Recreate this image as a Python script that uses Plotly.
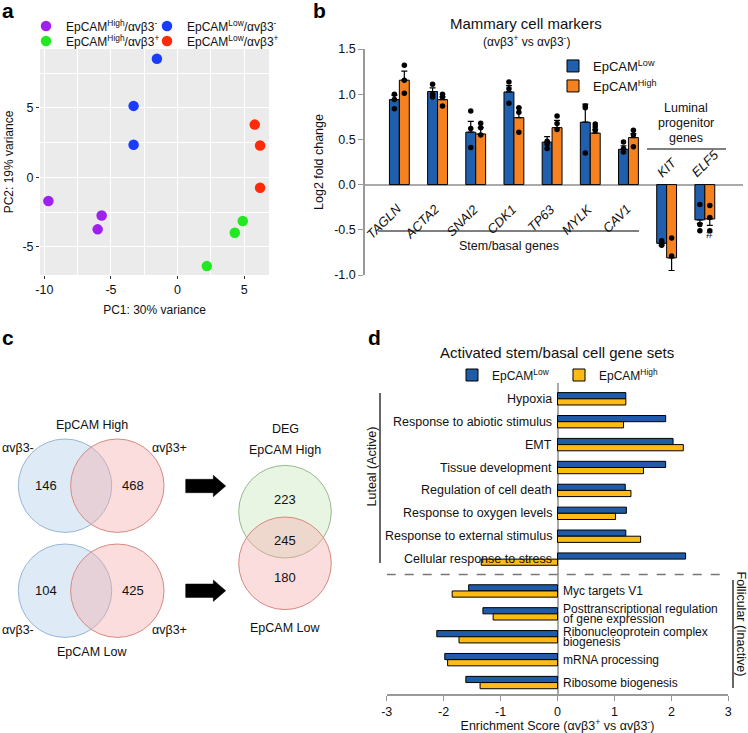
import plotly.graph_objects as go

W, H = 748, 733
FONT = "Liberation Sans, Arial, Helvetica, sans-serif"
TXT = "#111111"


def fx(p):
    return p / W


def fy(p):
    return 1 - p / H


# ---------------- Panel a : PCA ----------------
PCA_NAMES = ["EpCAM<sup>High</sup>/αvβ3<sup>-</sup>", "EpCAM<sup>Low</sup>/αvβ3<sup>-</sup>",
             "EpCAM<sup>High</sup>/αvβ3<sup>+</sup>", "EpCAM<sup>Low</sup>/αvβ3<sup>+</sup>"]
PCA_COLORS = ["#A020F0", "#1A3CFF", "#22E822", "#FF2A0A"]
PC1_HIGH_NEG = [-9.7, -5.7, -6.0]
PC2_HIGH_NEG = [-1.7, -2.75, -3.75]
PC1_LOW_NEG = [-1.55, -3.3, -3.3]
PC2_LOW_NEG = [8.55, 5.15, 2.35]
PC1_HIGH_POS = [4.9, 4.3, 2.2]
PC2_HIGH_POS = [-3.15, -4.0, -6.4]
PC1_LOW_POS = [5.8, 6.2, 6.2]
PC2_LOW_POS = [3.8, 2.3, -0.75]
PC1_TICKS = [-10, -5, 0, 5]
PC2_TICKS = [-5, 0, 5]

# ---------------- Panel b : marker genes ----------------
GENES = ["TAGLN", "ACTA2", "SNAI2", "CDK1", "TP63", "MYLK", "CAV1", "KIT", "ELF5"]
FC_LOW = [0.94, 1.03, 0.58, 1.025, 0.47, 0.69, 0.39, -0.65, -0.39]
FC_HIGH = [1.155, 0.94, 0.56, 0.74, 0.63, 0.57, 0.52, -0.81, -0.38]
SEM_LOW = [0.05, 0.04, 0.12, 0.07, 0.06, 0.20, 0.04, 0.02, 0.04]
SEM_HIGH = [0.10, 0.03, 0.07, 0.11, 0.08, 0.04, 0.045, 0.14, 0.07]
DOTS_LOW = [[1.0, 0.94, 0.84], [1.11, 1.0, 0.97], [0.815, 0.62, 0.41], [1.135, 1.06, 0.90],
            [0.48, 0.45, 0.40], [0.87, 0.85, 0.35], [0.47, 0.40, 0.36], [-0.62, -0.64, -0.67],
            [-0.22, -0.44, -0.51]]
DOTS_HIGH = [[1.32, 1.155, 1.01], [1.0, 0.97, 0.87], [0.68, 0.63, 0.55], [0.85, 0.80, 0.58],
             [0.76, 0.675, 0.61], [0.67, 0.64, 0.60], [0.60, 0.55, 0.42], [-0.59, -0.79, -1.07],
             [-0.23, -0.365, -0.51]]
FC_TICKS = [-1.0, -0.5, 0.0, 0.5, 1.0, 1.5]

# ---------------- Panel c : Venn counts ----------------
VENN_HIGH = [146, 468]
VENN_LOW = [104, 425]
DEG_COUNTS = [223, 245, 180]

# ---------------- Panel d : enrichment ----------------
SETS_ACTIVE = ["Hypoxia", "Response to abiotic stimulus", "EMT", "Tissue development",
               "Regulation of cell death", "Response to oxygen levels",
               "Response to external stimulus", "Cellular response to stress"]
SETS_INACTIVE = ["Myc targets V1", "Posttranscriptional regulation<br>of gene expression",
                 "Ribonucleoprotein complex<br>biogenesis", "mRNA processing",
                 "Ribosome biogenesis"]
ES_LOW = [1.2, 1.9, 2.03, 1.9, 1.19, 1.21, 1.2, 2.25, -1.56, -1.31, -2.12, -1.98, -1.61]
ES_HIGH = [1.2, 1.16, 2.21, 1.51, 1.29, 1.02, 1.46, -1.34, -1.85, -1.13, -1.73, -1.93, -1.36]
ES_TICKS = [-3, -2, -1, 0, 1, 2, 3]

BLUE_B, ORANGE_B = "#1F5FAD", "#F5821F"
BLUE_D, YELLOW_D = "#1F5BA8", "#FDBB13"

fig = go.Figure()

# ---- a traces (one legend box per entry so each sits where the reference shows it)
pca_sets = [(PC1_HIGH_NEG, PC2_HIGH_NEG, "legend"), (PC1_LOW_NEG, PC2_LOW_NEG, "legend2"),
            (PC1_HIGH_POS, PC2_HIGH_POS, "legend3"), (PC1_LOW_POS, PC2_LOW_POS, "legend4")]
for (xs, ys, lg), name, col in zip(pca_sets, PCA_NAMES, PCA_COLORS):
    fig.add_trace(go.Scatter(x=xs, y=ys, mode="markers", name=name, legend=lg,
                             marker=dict(color=col, size=10.5), xaxis="x", yaxis="y"))

# ---- b traces
idx = list(range(len(GENES)))
for vals, sems, dots, col, name, off, lg in [
        (FC_LOW, SEM_LOW, DOTS_LOW, BLUE_B, "EpCAM<sup>Low</sup>", -0.26, "legend5"),
        (FC_HIGH, SEM_HIGH, DOTS_HIGH, ORANGE_B, "EpCAM<sup>High</sup>", 0.0, "legend6")]:
    fig.add_trace(go.Bar(
        x=idx, y=vals, width=0.26, offset=off, name=name, legend=lg,
        marker=dict(color=col, line=dict(color="black", width=1)),
        error_y=dict(type="data", symmetric=False,
                     array=[s if v >= 0 else 0 for v, s in zip(vals, sems)],
                     arrayminus=[s if v < 0 else 0 for v, s in zip(vals, sems)],
                     color="black", thickness=1.2, width=3),
        xaxis="x2", yaxis="y2"))
    fig.add_trace(go.Scatter(
        x=[i + off + 0.13 for i in idx for _ in range(3)],
        y=[v for trip in dots for v in trip], mode="markers", showlegend=False,
        marker=dict(color="black", size=5.5), xaxis="x2", yaxis="y2"))

# ---- d traces
labels_d = SETS_ACTIVE + SETS_INACTIVE
ypos_d = [float(i) for i in range(len(SETS_ACTIVE))] + \
         [len(SETS_ACTIVE) + 0.39 + j for j in range(len(SETS_INACTIVE))]
for vals, col, name, off, lg in [(ES_LOW, BLUE_D, "EpCAM<sup>Low</sup>", -0.27, "legend7"),
                                 (ES_HIGH, YELLOW_D, "EpCAM<sup>High</sup>", 0.0, "legend8")]:
    fig.add_trace(go.Bar(
        y=ypos_d, x=vals, orientation="h", width=0.27, offset=off, name=name, legend=lg,
        marker=dict(color=col, line=dict(color="black", width=1)), xaxis="x3", yaxis="y3"))

shapes = []
ann = []


def text(x, y, s, size=12.5, **kw):
    d = dict(x=fx(x), y=fy(y), xref="paper", yref="paper", text=s, showarrow=False,
             xanchor="center", yanchor="middle",
             font=dict(size=size, color=TXT, family=FONT))
    d.update(kw)
    ann.append(d)


# panel letters
for ch, x, y in [("a", 0, 11), ("b", 311, 11), ("c", 0, 338), ("d", 366, 338)]:
    text(x, y, f"<b>{ch}</b>", xanchor="left", font=dict(size=21, color="black", family=FONT))

# ---- a background
shapes.append(dict(type="rect", xref="x domain", yref="y domain", x0=0, x1=1, y0=0, y1=1,
                   fillcolor="#EBEBEB", line=dict(width=0), layer="below"))

# ---- b decorations
text(526, 24, "Mammary cell markers", size=15)
text(526, 41, "(αvβ3<sup>+</sup> vs αvβ3<sup>-</sup>)", size=12)
for i, g in enumerate(GENES):
    if FC_LOW[i] >= 0:
        ann.append(dict(x=i, y=0, xref="x2", yref="y2", text=f"<i>{g}</i>", textangle=-45,
                        xanchor="right", yanchor="top", xshift=8, yshift=-14, showarrow=False,
                        font=dict(size=13, color=TXT, family=FONT)))
    else:
        ann.append(dict(x=i, y=0, xref="x2", yref="y2", text=f"<i>{g}</i>", textangle=-45,
                        xanchor="center", yanchor="bottom", yshift=2, showarrow=False,
                        font=dict(size=13, color=TXT, family=FONT)))
ann.append(dict(x=len(GENES) - 1 + 0.13, y=-0.55, xref="x2", yref="y2", text="#", showarrow=False,
                font=dict(size=12, color=TXT, family=FONT)))
shapes.append(dict(type="line", xref="paper", yref="paper", x0=fx(378), x1=fx(639), y0=fy(231), y1=fy(231),
                   line=dict(color="black", width=1)))
text(509, 246, "Stem/basal genes")
for k, s in enumerate(["Luminal", "progenitor", "genes"]):
    text(686, 108 + 15 * k, s)
shapes.append(dict(type="line", xref="paper", yref="paper", x0=fx(647), x1=fx(726), y0=fy(149), y1=fy(149),
                   line=dict(color="black", width=1)))


# ---- c venn diagrams
def circle(cx, cy, r, fill, edge):
    shapes.append(dict(type="circle", xref="paper", yref="paper", x0=fx(cx - r), x1=fx(cx + r),
                       y0=fy(cy + r), y1=fy(cy - r), fillcolor=fill, line=dict(color=edge, width=1)))


BLUE_F, BLUE_E = "rgba(190,215,240,0.5)", "#97B6D6"
RED_F, RED_E = "rgba(245,170,170,0.4)", "#D68A7E"
GREEN_F, GREEN_E = "rgba(200,230,185,0.4)", "#96B98A"
for cy in (485.7, 590.7):
    circle(65, cy, 46.7, BLUE_F, BLUE_E)
    circle(117.3, cy, 46.7, RED_F, RED_E)
text(46, 485.7, str(VENN_HIGH[0]), size=13)
text(132.7, 485.7, str(VENN_HIGH[1]), size=13)
text(46, 590.7, str(VENN_LOW[0]), size=13)
text(132.7, 590.7, str(VENN_LOW[1]), size=13)
text(92.3, 424.5, "EpCAM High")
text(92.3, 652, "EpCAM Low")
text(0, 447.5, "αvβ3-", xanchor="left")
text(150, 447.5, "αvβ3+", xanchor="left")
text(0, 629.5, "αvβ3-", xanchor="left")
text(150, 629.5, "αvβ3+", xanchor="left")
for cy in (486, 590.7):
    pts = [(185.7, cy - 6.7), (213.3, cy - 6.7), (213.3, cy - 10.7), (225.7, cy), (213.3, cy + 10.7),
           (213.3, cy + 6.7), (185.7, cy + 6.7)]
    path = "M " + " L ".join(f"{fx(a):.5f},{fy(b):.5f}" for a, b in pts) + " Z"
    shapes.append(dict(type="path", xref="paper", yref="paper", path=path, fillcolor="black",
                       line=dict(color="black", width=0.5)))
circle(285, 511.7, 46.3, GREEN_F, GREEN_E)
circle(285, 563.3, 46.3, RED_F, RED_E)
text(285, 499, str(DEG_COUNTS[0]), size=13)
text(285, 540, str(DEG_COUNTS[1]), size=13)
text(285, 577, str(DEG_COUNTS[2]), size=13)
text(285, 428.5, "DEG")
text(285, 450, "EpCAM High")
text(285, 627.5, "EpCAM Low")

# ---- d decorations
text(556.7, 352.5, "Activated stem/basal cell gene sets", size=15)
n_act = len(SETS_ACTIVE)
for k, (lab, yv) in enumerate(zip(labels_d, ypos_d)):
    lines = lab.split("<br>")
    n = len(lines)
    act = k < n_act
    for j, ln in enumerate(lines):
        ys = (n - 1) / 2 * 10.5 - j * 10.5
        ann.append(dict(x=0, y=yv, xref="x3", yref="y3", text=ln, showarrow=False,
                        xanchor="right" if act else "left", yanchor="middle",
                        xshift=-4 if act else 3, yshift=ys,
                        font=dict(size=12.5 if act else 12, color=TXT, family=FONT)))
dash_y = n_act - 1 + 0.67
shapes.append(dict(type="line", xref="x3", yref="y3", x0=-3, x1=3, y0=dash_y, y1=dash_y,
                   line=dict(color="#777777", width=1.5, dash="dash")))
shapes.append(dict(type="line", xref="paper", yref="paper", x0=fx(380), x1=fx(380), y0=fy(393), y1=fy(563),
                   line=dict(color="black", width=1.2)))
shapes.append(dict(type="line", xref="paper", yref="paper", x0=fx(733), x1=fx(733), y0=fy(580), y1=fy(688),
                   line=dict(color="black", width=1.2)))
text(371.5, 467, "Luteal (Active)", textangle=-90)
text(740.5, 624, "Follicular (Inactive)", textangle=90)

tickfont = dict(size=12.5, color=TXT, family=FONT)
legfont = dict(size=12, color=TXT, family=FONT)
legfont_b = dict(size=13, color=TXT, family=FONT)


def leg(x, y, font):
    return dict(x=fx(x), y=fy(y), xanchor="left", yanchor="middle", font=font,
                bgcolor="rgba(0,0,0,0)")


fig.update_layout(
    width=W, height=H, margin=dict(l=0, r=0, t=0, b=0, autoexpand=False),
    paper_bgcolor="white", plot_bgcolor="rgba(0,0,0,0)",
    font=dict(family=FONT, color=TXT),
    barmode="overlay",
    shapes=shapes, annotations=ann,
    xaxis=dict(domain=[fx(40), fx(269)], range=[-10.33, 6.87], anchor="y", automargin=False,
               tickvals=PC1_TICKS, ticktext=[str(t) for t in PC1_TICKS],
               showgrid=True, gridcolor="white", gridwidth=1.2,
               minor=dict(showgrid=True, gridcolor="white", gridwidth=0.5, dtick=2.5, tick0=0),
               zeroline=False, showline=False, ticks="outside", ticklen=3, tickcolor="#333",
               tickfont=tickfont,
               title=dict(text="PC1: 30% variance", font=dict(size=12, color=TXT), standoff=9)),
    yaxis=dict(domain=[fy(275), fy(49)], range=[-7.04, 9.25], anchor="x", automargin=False,
               tickvals=PC2_TICKS, ticktext=[str(t) for t in PC2_TICKS],
               showgrid=True, gridcolor="white", gridwidth=1.2,
               minor=dict(showgrid=True, gridcolor="white", gridwidth=0.5, dtick=2.5, tick0=0),
               zeroline=False, showline=False, ticks="outside", ticklen=3, tickcolor="#333",
               tickfont=tickfont,
               title=dict(text="PC2: 19% variance", font=dict(size=12, color=TXT), standoff=6)),
    xaxis2=dict(domain=[fx(365), fx(743)], range=[-0.9, 9.0], anchor="y2", automargin=False,
                visible=False),
    yaxis2=dict(domain=[fy(275), fy(49)], range=[-1.0, 1.5], anchor="x2", automargin=False,
                tickvals=FC_TICKS, ticktext=[f"{t:.1f}" for t in FC_TICKS],
                showgrid=False, showline=True, linecolor="#999999", linewidth=1.5,
                ticks="outside", ticklen=5, tickcolor="#999999", tickfont=tickfont,
                zeroline=True, zerolinecolor="#AAAAAA", zerolinewidth=1.5,
                title=dict(text="Log2 fold change", font=dict(size=12.5, color=TXT), standoff=8)),
    xaxis3=dict(domain=[fx(386.7), fx(728.3)], range=[-3, 3], anchor="y3", automargin=False,
                tickvals=ES_TICKS, ticktext=[str(t) for t in ES_TICKS],
                showgrid=False, showline=True, linecolor="#999999", linewidth=1.5,
                ticks="outside", ticklen=5, tickcolor="#999999", tickfont=tickfont,
                zeroline=True, zerolinecolor="#AAAAAA", zerolinewidth=1.5,
                title=dict(text="Enrichment Score (αvβ3<sup>+</sup> vs αvβ3<sup>-</sup>)",
                           font=dict(size=12.5, color=TXT), standoff=4)),
    yaxis3=dict(domain=[fy(694), fy(383)], range=[12.89, -0.69], anchor="x3", automargin=False,
                visible=False),
    legend=leg(26, 26, legfont),
    legend2=leg(147, 26, legfont),
    legend3=leg(26, 41, legfont),
    legend4=leg(147, 41, legfont),
    legend5=leg(553, 66, legfont_b),
    legend6=leg(553, 86, legfont_b),
    legend7=leg(452, 375, legfont),
    legend8=leg(559, 375, legfont),
)

fig.write_html("out.html", config={"displayModeBar": False},
               post_script="document.body.style.margin='0';document.body.style.overflow='hidden';")
